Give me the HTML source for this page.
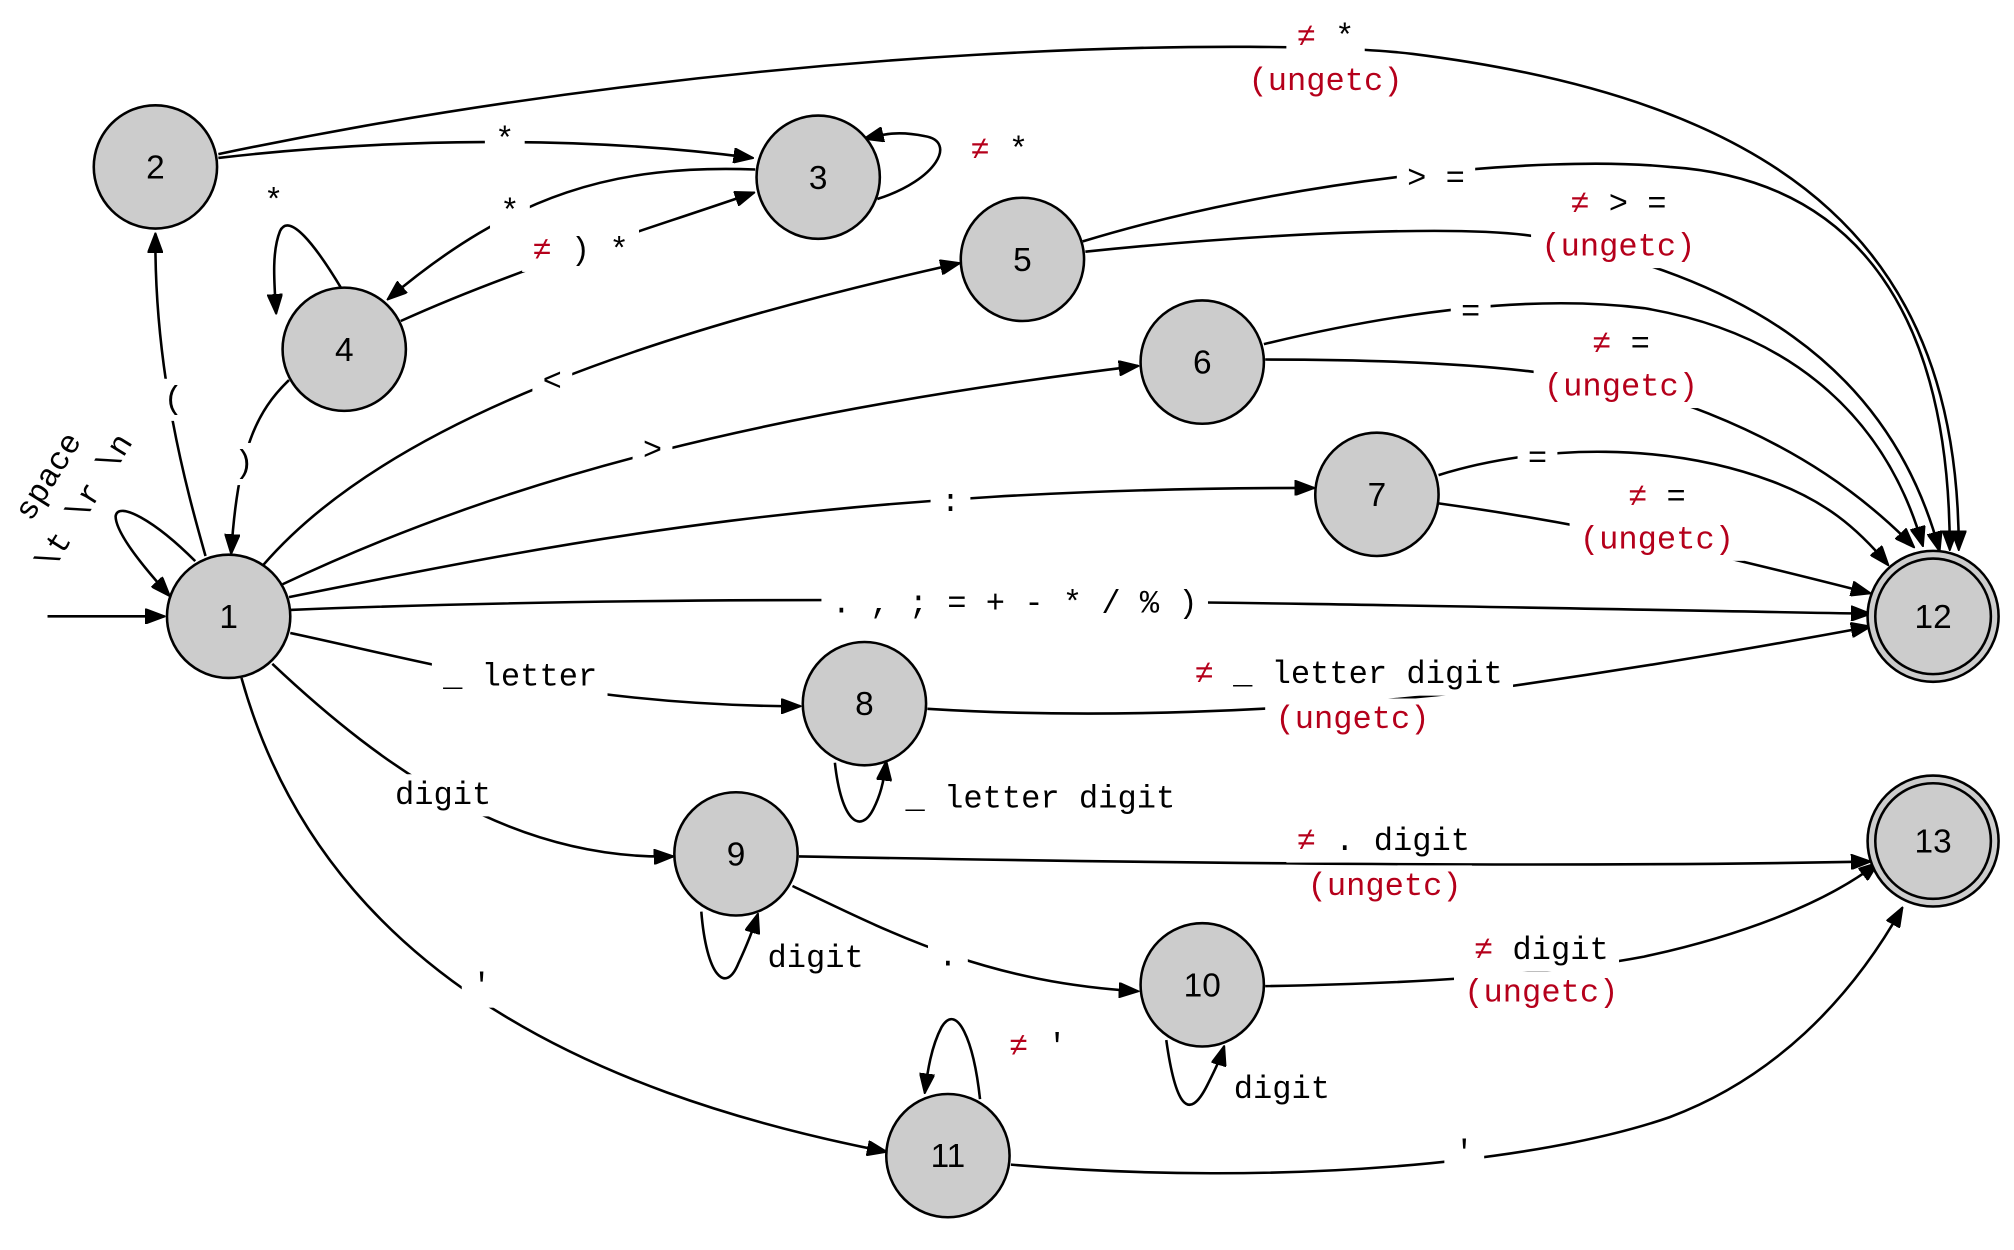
<!DOCTYPE html>
<html><head><meta charset="utf-8"><style>
html,body{margin:0;padding:0;background:#fff;}
svg{display:block;}
text{font-family:"Liberation Mono","DejaVu Sans Mono",monospace;font-size:25px;fill:#000;text-anchor:middle;}
.r{fill:#b5001b;}
.n{font-family:"Liberation Sans","DejaVu Sans",sans-serif;font-size:26px;}
path{fill:none;stroke:#000;stroke-width:2;}
circle{fill:#cccccc;stroke:#000;stroke-width:2;}
</style></head><body>
<svg width="2014" height="1250" viewBox="0 0 1568 973.5" preserveAspectRatio="none" xmlns="http://www.w3.org/2000/svg">
<defs>
<marker id="a" markerWidth="16" markerHeight="12" refX="15" refY="6" orient="auto" markerUnits="userSpaceOnUse">
<path d="M0,0 L16,6 L0,12 Z" style="fill:#000;stroke:#000;stroke-width:1"/>
</marker>
</defs>
<g marker-end="url(#a)">
<path d="M37,480 L128,480"/>
<path d="M152,437 C120,405 92,390 90,402 C90,415 112,442 132,464"/>
<path d="M160,433 C145,380 120,290 121,182"/>
<path d="M170,123 C300,108 450,105 586,123"/>
<path d="M170,120 C600,30 1000,30 1100,42 C1400,80 1525,200 1525,428"/>
<path d="M683,155 C730,140 745,110 720,106 C700,102 690,104 673,108"/>
<path d="M588,132 C480,128 400,150 302,233"/>
<path d="M312,250 C400,210 500,180 587,150"/>
<path d="M266,225 C245,190 225,165 218,180 C212,195 213,215 215,244"/>
<path d="M225,296 C200,320 185,350 180,431"/>
<path d="M205,440 C300,330 500,260 747,205"/>
<path d="M220,455 C400,370 600,320 886,285"/>
<path d="M225,465 C450,420 650,380 1023,380"/>
<path d="M226,475 C600,460 1000,470 1456,478"/>
<path d="M226,493 C330,515 450,550 623,550"/>
<path d="M212,517 C300,600 400,670 524,667"/>
<path d="M188,528 C250,750 450,850 690,897"/>
<path d="M843,188 C1000,140 1200,120 1300,130 C1450,140 1518,250 1518,428"/>
<path d="M845,196 C1000,180 1150,175 1200,185 C1350,215 1470,280 1510,429"/>
<path d="M984,268 C1100,240 1200,230 1280,240 C1400,260 1470,330 1497,425"/>
<path d="M985,280 C1150,280 1250,290 1330,322 C1400,350 1450,385 1490,426"/>
<path d="M1120,370 C1200,345 1300,345 1380,375 C1420,390 1445,410 1470,440"/>
<path d="M1120,392 C1250,410 1350,435 1456,462"/>
<path d="M722,552 C850,560 1000,555 1150,538 C1280,520 1380,502 1456,488"/>
<path d="M650,594 C655,640 670,650 680,630 C685,620 688,610 690,593"/>
<path d="M622,667 C900,672 1200,676 1456,671"/>
<path d="M546,710 C550,760 565,775 575,750 C582,735 586,725 590,712"/>
<path d="M617,690 C700,730 770,765 886,772"/>
<path d="M985,768 C1100,766 1200,760 1280,745 C1350,730 1420,705 1462,672"/>
<path d="M908,810 C915,860 925,875 940,845 C945,835 950,825 953,815"/>
<path d="M763,856 C758,810 745,780 733,800 C725,815 722,835 720,851"/>
<path d="M787,907 C1000,925 1200,905 1300,870 C1380,840 1440,780 1481,707"/>
</g>
<circle cx="178" cy="480" r="48"/><text class="n" x="178" y="489">1</text>
<circle cx="121" cy="130" r="48"/><text class="n" x="121" y="139">2</text>
<circle cx="637" cy="138" r="48"/><text class="n" x="637" y="147">3</text>
<circle cx="268" cy="272" r="48"/><text class="n" x="268" y="281">4</text>
<circle cx="796" cy="202" r="48"/><text class="n" x="796" y="211">5</text>
<circle cx="936" cy="282" r="48"/><text class="n" x="936" y="291">6</text>
<circle cx="1072" cy="385" r="48"/><text class="n" x="1072" y="394">7</text>
<circle cx="673" cy="548" r="48"/><text class="n" x="673" y="557">8</text>
<circle cx="573" cy="665" r="48"/><text class="n" x="573" y="674">9</text>
<circle cx="936" cy="767" r="48"/><text class="n" x="936" y="776">10</text>
<circle cx="738" cy="900" r="48"/><text class="n" x="738" y="909">11</text>
<circle cx="1505" cy="480" r="51"/><circle cx="1505" cy="480" r="45"/><text class="n" x="1505" y="489">12</text>
<circle cx="1505" cy="655" r="51"/><circle cx="1505" cy="655" r="45"/><text class="n" x="1505" y="664">13</text>
<g id="labels">
<text transform="translate(44,375) rotate(-58)">space</text>
<text transform="translate(72,395) rotate(-58)">\t \r \n</text>
<text x="135" y="318">(</text>
<text x="190" y="368">)</text>
<text x="393" y="116">*</text>
<text x="1032" y="36"><tspan class="r">≠</tspan> *</text>
<text class="r" x="1032" y="70">(ungetc)</text>
<text x="778" y="124"><tspan class="r">≠</tspan> *</text>
<text x="397" y="172">*</text>
<text x="452" y="202"><tspan class="r">≠</tspan> ) *</text>
<text x="213" y="164">*</text>
<text x="430" y="304">&lt;</text>
<text x="508" y="358">&gt;</text>
<text x="740" y="398">:</text>
<text x="790" y="477">. , ; = + - * / % )</text>
<text x="405" y="534">_ letter</text>
<text x="345" y="626">digit</text>
<text x="375" y="775">'</text>
<text x="1118" y="146">&gt; =</text>
<text x="1260" y="166"><tspan class="r">≠</tspan> &gt; =</text>
<text class="r" x="1260" y="199">(ungetc)</text>
<text x="1145" y="250">=</text>
<text x="1262" y="275"><tspan class="r">≠</tspan> =</text>
<text class="r" x="1262" y="308">(ungetc)</text>
<text x="1197" y="364">=</text>
<text x="1290" y="394"><tspan class="r">≠</tspan> =</text>
<text class="r" x="1290" y="427">(ungetc)</text>
<text x="1050" y="532"><tspan class="r">≠</tspan> _ letter digit</text>
<text class="r" x="1053" y="567">(ungetc)</text>
<text x="810" y="629">_ letter digit</text>
<text x="1077" y="662"><tspan class="r">≠</tspan> . digit</text>
<text class="r" x="1078" y="697">(ungetc)</text>
<text x="635" y="753">digit</text>
<text x="738" y="752">.</text>
<text x="1200" y="747"><tspan class="r">≠</tspan> digit</text>
<text class="r" x="1200" y="780">(ungetc)</text>
<text x="998" y="855">digit</text>
<text x="808" y="822"><tspan class="r">≠</tspan> '</text>
<text x="1140" y="905">'</text>
</g>
</svg>
<script>
(function(){
  var ns="http://www.w3.org/2000/svg";
  var g=document.getElementById("labels");
  var ts=Array.prototype.slice.call(g.getElementsByTagName("text"));
  ts.forEach(function(t){
    if(t.parentNode!==g) return;
    var b=t.getBBox();
    var r=document.createElementNS(ns,"rect");
    r.setAttribute("x",b.x-8);r.setAttribute("y",b.y-2);
    r.setAttribute("width",b.width+16);r.setAttribute("height",b.height+4);
    r.setAttribute("fill","#fff");
    var tr=t.getAttribute("transform");
    if(tr) r.setAttribute("transform",tr);
    g.insertBefore(r,t);
  });
})();
</script>
</body></html>
